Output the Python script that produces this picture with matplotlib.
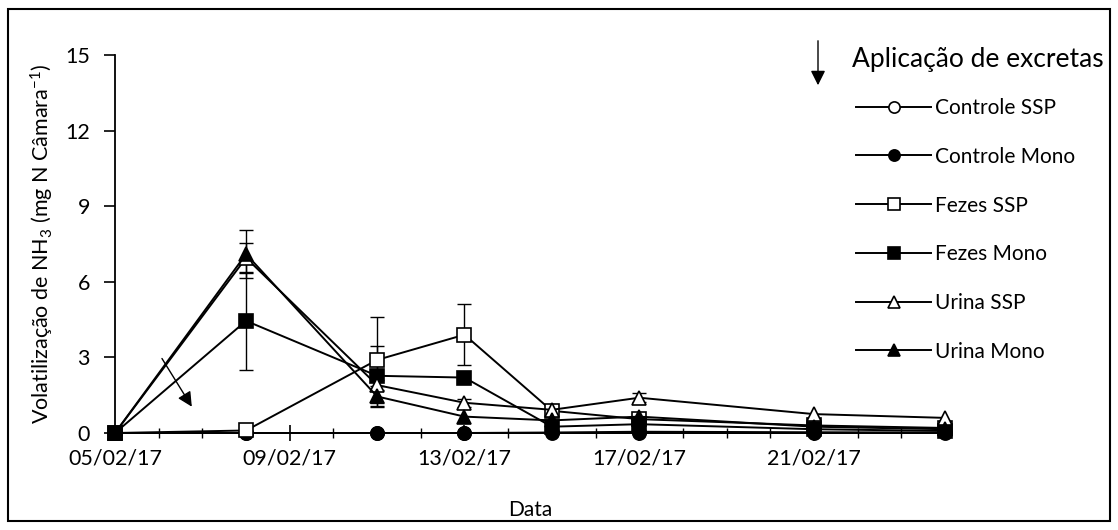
import matplotlib
matplotlib.use("Agg")
import matplotlib.pyplot as plt
import matplotlib.dates as mdates
from matplotlib.patches import Rectangle, FancyArrowPatch
import numpy as np
import pandas as pd

plt.rcParams["font.family"] = ["Lato", "DejaVu Sans"]
plt.rcParams["mathtext.fontset"] = "custom"
plt.rcParams["mathtext.rm"] = "Lato"
plt.rcParams["mathtext.it"] = "Lato:italic"

# ----------------------------------------------------------------------
# Data
# ----------------------------------------------------------------------
dates = ["05/02/17", "08/02/17", "11/02/17", "13/02/17",
         "15/02/17", "17/02/17", "21/02/17", "24/02/17"]

controle_ssp = [0, 0, 0, 0, 0.02, 0.05, 0.03, 0.02]
controle_mono = [0, 0, 0, 0, 0, 0, 0, 0]
fezes_ssp = [0, 0.1, 2.9, 3.9, 0.88, 0.55, 0.3, 0.2]
fezes_mono = [0, 4.45, 2.27, 2.2, 0.25, 0.35, 0.15, 0.08]
urina_ssp = [0, 6.95, 1.9, 1.2, 0.92, 1.4, 0.75, 0.6]
urina_mono = [0, 7.1, 1.45, 0.65, 0.5, 0.65, 0.25, 0.15]

# standard errors (0 = not drawn)
err_fezes_ssp = [0, 0, 1.72, 1.2, 0, 0, 0, 0]
err_fezes_mono = [0, 1.95, 1.2, 0, 0, 0, 0, 0]
err_urina_ssp = [0, 0.6, 0.2, 0.15, 0, 0.18, 0, 0]
err_urina_mono = [0, 0.95, 0.4, 0, 0, 0, 0, 0]

labels = ["Controle SSP", "Controle Mono", "Fezes SSP",
          "Fezes Mono", "Urina SSP", "Urina Mono"]
series = [controle_ssp, controle_mono, fezes_ssp, fezes_mono, urina_ssp, urina_mono]
errors = [None, None, err_fezes_ssp, err_fezes_mono, err_urina_ssp, err_urina_mono]
markers = ["o", "o", "s", "s", "^", "^"]
faces = ["white", "black", "white", "black", "white", "black"]

x = pd.to_datetime(dates, format="%d/%m/%y")

W, H = 1118, 530
fig = plt.figure(figsize=(W / 100, H / 100), dpi=100)
ax = fig.add_axes([115 / W, 1 - 433 / H, (945 - 115) / W, (433 - 55) / H])

for vals, err, mk, fc, lab in zip(series, errors, markers, faces, labels):
    vals = np.asarray(vals, dtype=float)
    if err is not None:
        err = np.asarray(err, dtype=float)
        keep = err > 0
        ax.errorbar(x[keep], vals[keep], yerr=err[keep], fmt="none",
                    ecolor="black", elinewidth=1.0, capsize=5, capthick=1.0,
                    zorder=2)
    ax.plot(x, vals, color="black", lw=1.4, marker=mk, markersize=9.5,
            markerfacecolor=fc, markeredgecolor="black", markeredgewidth=1.2,
            label=lab, zorder=3, clip_on=False)

# axes styling
ax.set_ylim(0, 15)
ax.set_yticks(np.arange(0, 16, 3))
ax.set_xlim(pd.Timestamp("2017-02-05"), pd.Timestamp("2017-02-24"))
major = pd.date_range("2017-02-05", "2017-02-21", freq="4D")
ax.set_xticks(major)
ax.xaxis.set_major_formatter(mdates.DateFormatter("%d/%m/%y"))
ax.xaxis.set_minor_locator(mdates.DayLocator())

for side in ("top", "right"):
    ax.spines[side].set_visible(False)
for side in ("left", "bottom"):
    ax.spines[side].set_linewidth(1.3)

ax.tick_params(axis="y", direction="out", length=8, width=1.2, labelsize=15.5, pad=10)
ax.tick_params(axis="x", which="major", direction="inout", length=11, width=1.2,
               labelsize=15.5, pad=6)
ax.tick_params(axis="x", which="minor", direction="inout", length=7, width=1.0)

ax.set_ylabel("Volatilização de NH$_3$ (mg N Câmara$^{-1}$)", fontsize=15.5)
ax.yaxis.set_label_coords((56 - 115) / 830, 0.5)
ax.set_xlabel("Data", fontsize=15)
ax.xaxis.set_label_coords(0.5, (433 - 500) / 378)

# arrow marking excreta application
ax.annotate("", xy=(mdates.date2num(pd.Timestamp("2017-02-06 19:00")), 0.95),
            xytext=(mdates.date2num(pd.Timestamp("2017-02-06 01:00")), 3.05),
            arrowprops=dict(arrowstyle="-|>", color="black", lw=1.0,
                            mutation_scale=22), zorder=4)

# legend-like annotation at the top right
fig.text(852 / W, 1 - 60 / H, "Aplicação de excretas", fontsize=19,
         va="center", ha="left")
fig.add_artist(FancyArrowPatch(
    (818 / W, 1 - 38 / H), (818 / W, 1 - 88 / H), transform=fig.transFigure,
    arrowstyle="-|>", mutation_scale=22, color="black", lw=1.0))

ax.legend(loc="upper left", bbox_to_anchor=(856 / W, 1 - 98 / H),
          bbox_transform=fig.transFigure, frameon=False, fontsize=15,
          handlelength=3.6, labelspacing=1.38, handletextpad=0.2,
          markerscale=0.85, borderpad=0, borderaxespad=0)

# chart border
fig.add_artist(Rectangle((8 / W, 9 / H), (1110 - 8) / W, (521 - 9) / H,
                         transform=fig.transFigure, fill=False, lw=1.5,
                         ec="black"))

fig.savefig("out.png", dpi=100)
